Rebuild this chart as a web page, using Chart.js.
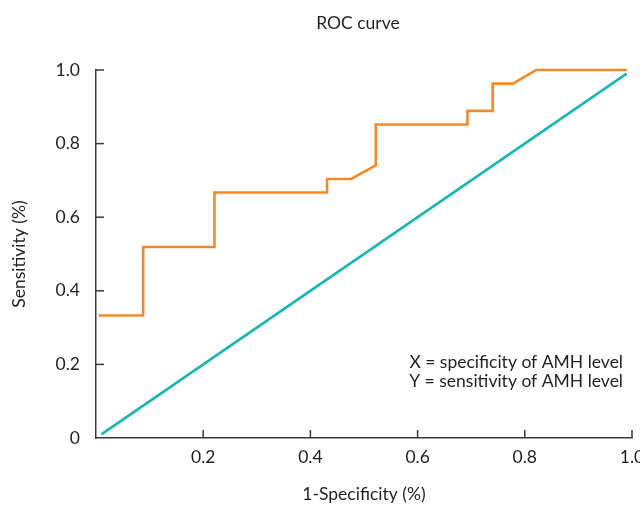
<!DOCTYPE html>
<html lang="en">

<head>
    <meta charset="UTF-8">
    <title>ROC curve</title>
    <script src="https://cdn.jsdelivr.net/npm/chart.js"></script>
    <style>
        html,
        body {
            margin: 0;
            padding: 0;
            background: #ffffff;
        }

        #chartBox {
            width: 640px;
            height: 505px;
        }
    </style>
</head>

<body>
    <div id="chartBox">
        <canvas id="rocChart"></canvas>
    </div>

    <script type="text/javascript">
        // ROC curve (1-specificity, sensitivity)
        const rocX = [0.005, 0.088, 0.088, 0.221, 0.221, 0.431, 0.431, 0.476, 0.522, 0.522, 0.693, 0.693, 0.740, 0.740, 0.778, 0.821, 0.991];
        const rocY = [0.333, 0.333, 0.519, 0.519, 0.667, 0.667, 0.704, 0.704, 0.741, 0.852, 0.852, 0.889, 0.889, 0.963, 0.963, 1.0, 1.0];

        // reference (chance) diagonal
        const refX = [0.01, 0.99];
        const refY = [0.01, 0.99];

        const tickValues = [0, 0.2, 0.4, 0.6, 0.8, 1.0];
        const noteLines = ['X = specificity of AMH level', 'Y = sensitivity of AMH level'];

        const fontFamily = "Lato, 'Open Sans', sans-serif";
        const fontSize = 17.5;
        const textColor = '#231f20';
        const axisColor = '#3a3a3a';

        function toPoints(xs, ys) {
            return xs.map((x, i) => ({ x: x, y: ys[i] }));
        }

        function fmt(v) {
            if (Math.abs(v) < 1e-9) return '0';
            return v.toFixed(1);
        }

        // ticks in the figure point into the plot, so draw them ourselves
        const inwardTicks = {
            id: 'inwardTicks',
            afterDraw(chart) {
                const { ctx, chartArea, scales } = chart;
                ctx.save();
                ctx.strokeStyle = axisColor;
                ctx.lineWidth = 1.5;
                tickValues.forEach(v => {
                    if (v === 0) return;
                    const px = scales.x.getPixelForValue(v);
                    ctx.beginPath();
                    ctx.moveTo(px, chartArea.bottom);
                    ctx.lineTo(px, chartArea.bottom - 8);
                    ctx.stroke();
                    const py = scales.y.getPixelForValue(v);
                    ctx.beginPath();
                    ctx.moveTo(chartArea.left, py);
                    ctx.lineTo(chartArea.left + 8, py);
                    ctx.stroke();
                });
                ctx.restore();
            }
        };

        // title and the note in the lower right
        const textBits = {
            id: 'textBits',
            afterDraw(chart) {
                const { ctx, chartArea, scales } = chart;
                ctx.save();
                ctx.fillStyle = textColor;
                ctx.font = fontSize + 'px ' + fontFamily;
                ctx.textAlign = 'center';
                ctx.textBaseline = 'middle';
                ctx.fillText('ROC curve', (chartArea.left + chartArea.right) / 2 - 6, chartArea.top - 47);

                ctx.textAlign = 'right';
                ctx.textBaseline = 'alphabetic';
                const baseY = scales.y.getPixelForValue(0.19);
                noteLines.forEach((line, i) => {
                    ctx.fillText(line, chartArea.right - 9, baseY + i * 18.5);
                });
                ctx.restore();
            }
        };

        const ctx = document.getElementById('rocChart').getContext('2d');
        const rocChart = new Chart(ctx, {
            type: 'scatter',
            data: {
                datasets: [
                    {
                        label: 'ROC',
                        data: toPoints(rocX, rocY),
                        showLine: true,
                        borderColor: '#f5892a',
                        borderWidth: 2.6,
                        pointRadius: 0,
                        tension: 0,
                        clip: false
                    },
                    {
                        label: 'Reference',
                        data: toPoints(refX, refY),
                        showLine: true,
                        borderColor: '#17b6b3',
                        borderWidth: 2.6,
                        pointRadius: 0,
                        clip: false
                    }
                ]
            },
            options: {
                responsive: true,
                maintainAspectRatio: false,
                animation: false,
                layout: {
                    padding: { top: 70, left: 0, right: 8, bottom: 0 }
                },
                plugins: {
                    legend: { display: false },
                    tooltip: { enabled: false },
                    title: { display: false }
                },
                scales: {
                    x: {
                        type: 'linear',
                        min: 0,
                        max: 1,
                        afterBuildTicks: (scale) => {
                            scale.ticks = tickValues.map(v => ({ value: v }));
                        },
                        afterFit: (scale) => {
                            scale.height = 67;
                            scale.paddingLeft = 0;
                            scale.paddingRight = 0;
                        },
                        grid: { display: false },
                        border: { display: true, color: axisColor, width: 1.5 },
                        ticks: {
                            padding: 1,
                            color: textColor,
                            font: { family: fontFamily, size: fontSize },
                            maxRotation: 0,
                            callback: (v) => (Math.abs(v) < 1e-9 ? '' : fmt(v))
                        },
                        title: {
                            display: true,
                            text: '1-Specificity (%)',
                            color: textColor,
                            font: { family: fontFamily, size: fontSize },
                            padding: { top: 4, bottom: 0 }
                        }
                    },
                    y: {
                        type: 'linear',
                        min: 0,
                        max: 1,
                        afterBuildTicks: (scale) => {
                            scale.ticks = tickValues.map(v => ({ value: v }));
                        },
                        afterFit: (scale) => {
                            scale.width = 96;
                            scale.paddingTop = 0;
                            scale.paddingBottom = 0;
                        },
                        grid: { display: false },
                        border: { display: true, color: axisColor, width: 1.5 },
                        ticks: {
                            padding: 8,
                            color: textColor,
                            font: { family: fontFamily, size: fontSize },
                            callback: (v) => fmt(v)
                        },
                        title: {
                            display: true,
                            text: 'Sensitivity (%)',
                            color: textColor,
                            font: { family: fontFamily, size: fontSize },
                            padding: { top: 9, bottom: 0 }
                        }
                    }
                }
            },
            plugins: [inwardTicks, textBits]
        });
    </script>

</body>

</html>
